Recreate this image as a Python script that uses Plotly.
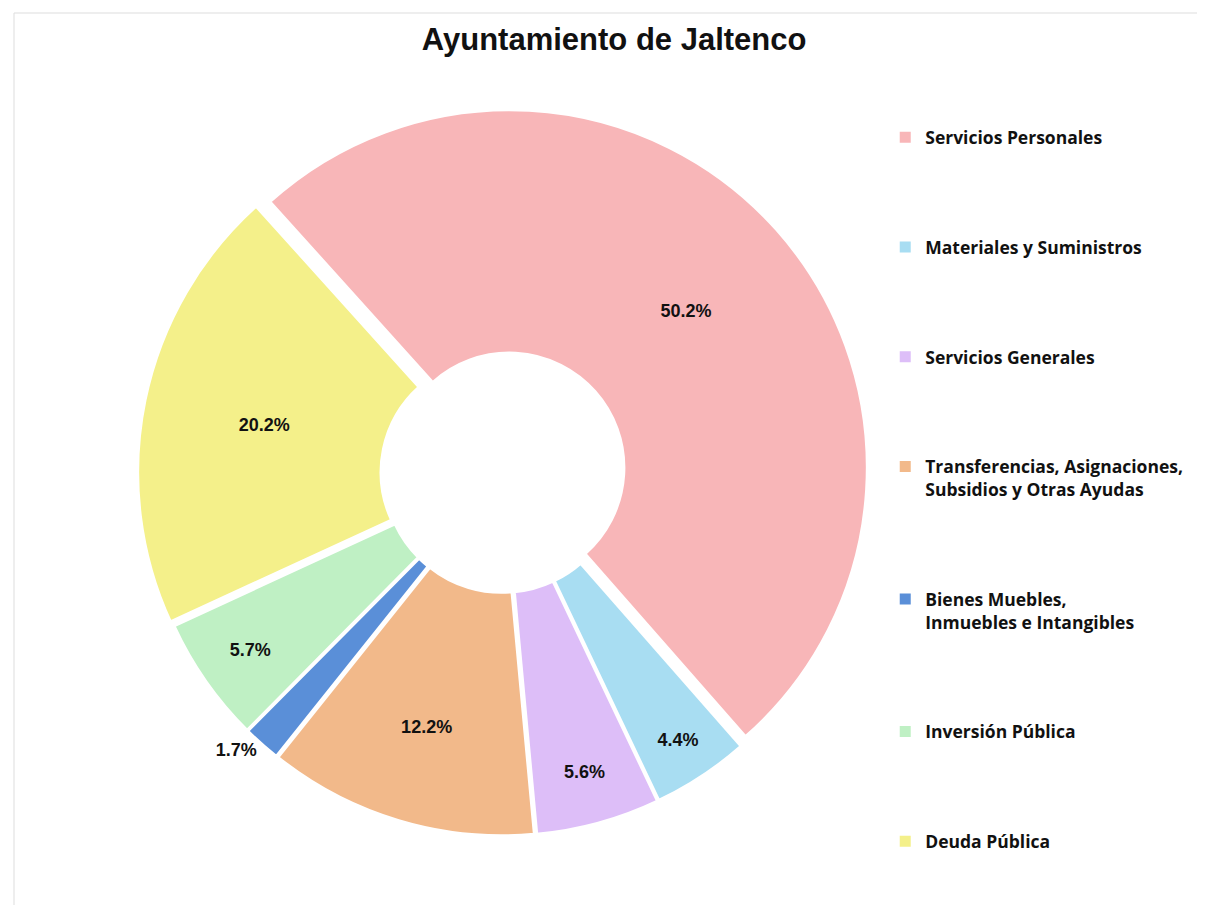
import plotly.graph_objects as go

categories = [
    "Servicios Personales",
    "Materiales y Suministros",
    "Servicios Generales",
    "Transferencias, Asignaciones,<br>Subsidios y Otras Ayudas",
    "Bienes Muebles,<br>Inmuebles e Intangibles",
    "Inversión Pública",
    "Deuda Pública",
]
values = [50.2, 4.4, 5.6, 12.2, 1.7, 5.7, 20.2]
colors = ["#F8B6B8", "#A8DDF2", "#DDBEF8", "#F2B98A", "#5A8FD8", "#BFF0C4", "#F4F08A"]
pulls = [0.025, 0.012, 0.012, 0.012, 0.012, 0.012, 0.02]
text_pos = ["inside", "inside", "inside", "inside", "outside", "inside", "inside"]

W, H = 1205, 905
fig = go.Figure()

fig.add_trace(go.Pie(
    labels=categories,
    values=values,
    sort=False,
    direction="clockwise",
    rotation=-42,
    hole=0.32,
    pull=pulls,
    marker=dict(colors=colors, line=dict(color="white", width=3)),
    texttemplate="%{value:.1f}%",
    textposition=text_pos,
    insidetextorientation="horizontal",
    textfont=dict(family="Liberation Sans Narrow, Liberation Sans, Arial", size=18, color="#111111", weight="bold"),
    showlegend=False,
    domain=dict(x=[0.106, 0.715], y=[0.0775, 0.8935]),
    hoverinfo="label+percent",
))

for i, (cat, col) in enumerate(zip(categories, colors)):
    fig.add_trace(go.Scatter(
        x=[None], y=[None], mode="markers",
        marker=dict(symbol="square", size=11, color=col),
        name=cat, legendgroup=f"g{i}", showlegend=True,
    ))

fig.update_layout(
    width=W, height=H,
    paper_bgcolor="white", plot_bgcolor="white",
    margin=dict(l=0, r=0, t=0, b=0),
    title=dict(text="<b>Ayuntamiento de Jaltenco</b>", x=0.503, xanchor="center", y=0.966, yanchor="middle",
               font=dict(family="Liberation Sans, Arial", size=31, color="#111111")),
    xaxis=dict(visible=False), yaxis=dict(visible=False),
    legend=dict(x=0.728, xanchor="left", y=0.877, yanchor="top",
                font=dict(family="Open Sans, Lato", size=17.5, color="#111111", weight="bold"),
                tracegroupgap=84, valign="top", itemwidth=30,
                bgcolor="rgba(0,0,0,0)"),
    uniformtext=dict(minsize=18, mode="show"),
    shapes=[dict(type="rect", xref="paper", yref="paper", x0=6/W, x1=1-3/W, y0=3/H, y1=1-5/H,
                 line=dict(color="#DDDDDD", width=1), fillcolor="rgba(0,0,0,0)")],
)

fig.write_html("out.html")
